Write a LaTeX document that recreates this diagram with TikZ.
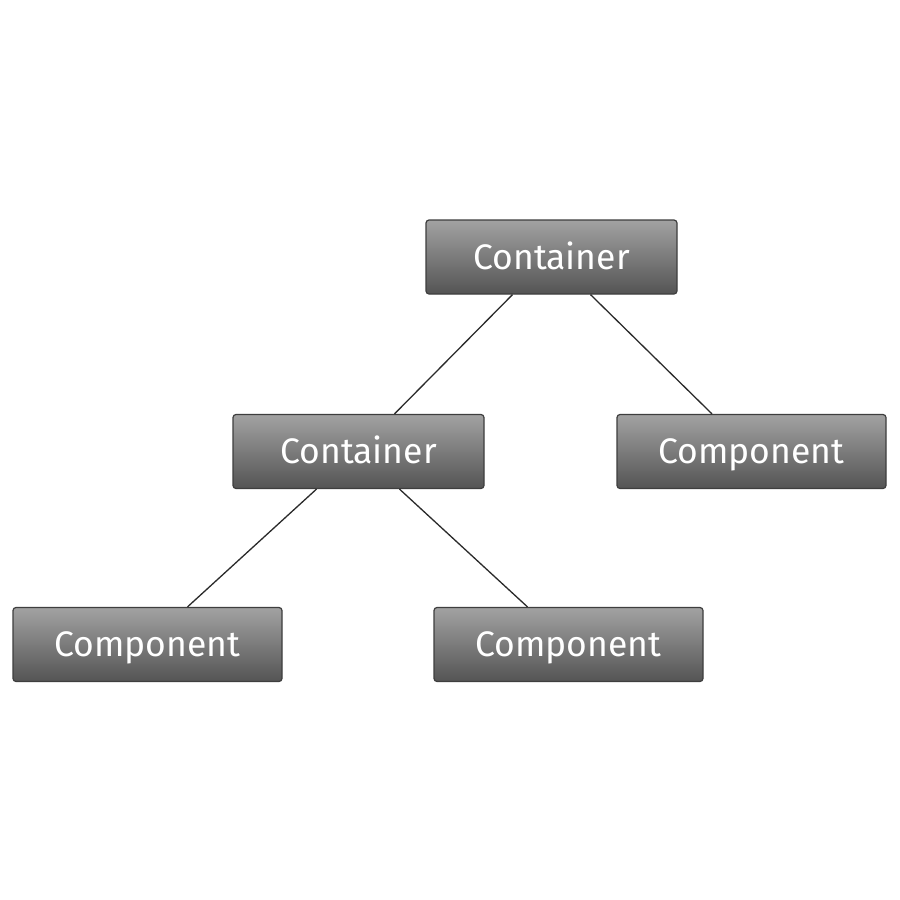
\documentclass[tikz,border=0pt]{standalone}
\usepackage{fontspec}
\setmainfont{Fira Sans}
\usetikzlibrary{calc}
\definecolor{boxtop}{HTML}{A2A2A2}
\definecolor{boxbot}{HTML}{545454}
\definecolor{boxedge}{HTML}{3E3E3E}
\definecolor{linecol}{HTML}{2A2A2A}
\tikzset{
  treebox/.style={draw=boxedge, line width=1.2pt, rounded corners=3pt,
    top color=boxtop, bottom color=boxbot, minimum height=74pt,
    text=white, font=\fontsize{35.5}{38}\selectfont, inner sep=0pt,
    text height=30pt, text depth=6pt},
  contbox/.style={treebox, minimum width=251pt},
  compbox/.style={treebox, minimum width=269pt},
  link/.style={draw=linecol, line width=1.3pt},
}
\begin{document}
\begin{tikzpicture}[x=1pt,y=-1pt]
\useasboundingbox[fill=white] (0,0) rectangle (900,900);
\node[contbox] (c1) at (551.5,257) {Container};
\node[contbox] (c2) at (358.5,451.5) {Container};
\node[compbox] (p1) at (751.5,451.5) {Component};
\node[compbox] (p2) at (147.5,644.5) {Component};
\node[compbox] (p3) at (568.5,644.5) {Component};
\draw[link] ($(c1.south)+(-39,0)$) -- ($(c2.north)+(36,0)$);
\draw[link] ($(c1.south)+(39,0)$) -- ($(p1.north)+(-39.5,0)$);
\draw[link] ($(c2.south)+(-42,0)$) -- ($(p2.north)+(40,0)$);
\draw[link] ($(c2.south)+(41,0)$) -- ($(p3.north)+(-41,0)$);
\end{tikzpicture}
\end{document}
